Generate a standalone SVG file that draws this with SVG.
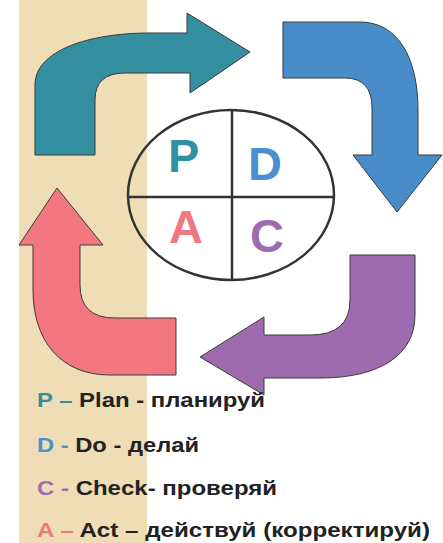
<svg xmlns="http://www.w3.org/2000/svg" width="443" height="543" viewBox="0 0 443 543">
<style>
.arr{stroke:#3a3a3a;stroke-width:1;stroke-linejoin:miter}
.big{font-family:"Liberation Sans",Arial,sans-serif;font-weight:bold;font-size:47px}
.leg{font-family:"Liberation Sans",Arial,sans-serif;font-weight:bold;font-size:20px;fill:#222}
.ln{stroke:#333;stroke-width:2.5;fill:none}
</style>
<rect x="0" y="0" width="443" height="543" fill="#fff"/>
<rect x="19" y="0" width="128" height="543" fill="#EFDDB6"/>
<g id="connectors">
<path id="arrow-plan" class="arr" fill="#348FA0" d="M35,155 L35,85 C35,50 90,33 150,33 L187,33 L187,13 L250,52 L190,93 L190,73 L125,73 Q95,73 95,100 L95,155 Z"/>
<path id="arrow-do" class="arr" fill="#488DCA" d="M283,22 L360,22 C398,22 418,58 418,110 L418,155 L442,155 L397,212 L353,155 L372,155 L372,108 Q372,78 345,78 L283,78 Z"/>
<path id="arrow-check" class="arr" fill="#9E6BAE" d="M415,255 L415,315 C415,355 380,378 320,378 L264,378 L264,395 L200,357 L264,317 L264,335 L310,335 Q350,335 350,300 L350,255 Z"/>
<path id="arrow-act" class="arr" fill="#F2777F" d="M57,188 L103,245 L80,245 L80,285 Q80,318 115,318 L176,318 L176,375 L110,375 C60,375 33,340 33,290 L33,245 L19,245 Z"/>
</g>
<g id="pdca-circle">
<ellipse cx="231" cy="195" rx="103" ry="85" fill="#fff" class="ln"/>
<line x1="232" y1="110" x2="232" y2="280" class="ln"/>
<line x1="128" y1="197" x2="334" y2="197" class="ln"/>
<text class="big" x="168" y="172" fill="#3190A0">P</text>
<text class="big" x="248" y="180" fill="#4A90D0">D</text>
<text class="big" x="169" y="243" fill="#F07880">A</text>
<text class="big" x="250" y="252" fill="#9E6BB0">C</text>
</g>
<g id="legend">
<text class="leg" x="37" y="407" textLength="228" lengthAdjust="spacingAndGlyphs"><tspan fill="#3190A0">P – </tspan>Plan - планируй</text>
<text class="leg" x="37" y="452" textLength="162" lengthAdjust="spacingAndGlyphs"><tspan fill="#4A90D0">D - </tspan>Do - делай</text>
<text class="leg" x="37" y="495" textLength="240" lengthAdjust="spacingAndGlyphs"><tspan fill="#9E6BB0">C - </tspan>Check- проверяй</text>
<text class="leg" x="37" y="537" textLength="393" lengthAdjust="spacingAndGlyphs"><tspan fill="#F07880">A – </tspan>Act – действуй (корректируй)</text>
</g>
</svg>
